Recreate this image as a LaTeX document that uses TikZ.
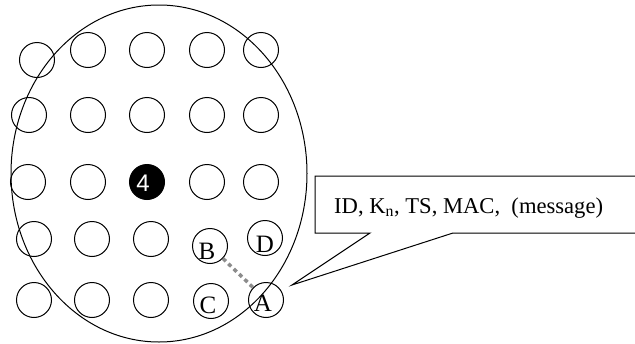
\documentclass[tikz,border=0pt]{standalone}
\usepackage{fontspec}
\setmainfont{Liberation Serif}
\newfontfamily\numfont{Liberation Sans}
\usetikzlibrary{shapes.geometric}
\begin{document}
\begin{tikzpicture}[x=1pt,y=-1pt,
  sensor/.style={circle,draw=black,line width=1pt,minimum size=35pt,inner sep=0pt},
  headnode/.style={sensor,fill=black},
  lbl/.style={inner sep=0pt,font=\fontsize{22.6}{27}\selectfont},
  letter/.style={inner sep=0pt,font=\fontsize{25}{30}\selectfont},
  region/.style={ellipse,draw=black,line width=1pt,minimum width=296pt,minimum height=337pt,inner sep=0pt},
  hop/.style={draw=black!45,line width=3.5pt,dash pattern=on 4pt off 3.5pt},
  callout/.style={draw=black,line width=1pt,fill=white}]
\useasboundingbox (0,0) rectangle (635,343);
% cluster region
\node[region] (area) at (159,173.5) {};
% row 1
\node[sensor] (n11) at (37,60) {};
\node[sensor] (n12) at (88,50) {};
\node[sensor] (n13) at (147,50) {};
\node[sensor] (n14) at (207,50) {};
\node[sensor] (n15) at (261,50) {};
% row 2
\node[sensor] (n21) at (29,115) {};
\node[sensor] (n22) at (88,115) {};
\node[sensor] (n23) at (147,115) {};
\node[sensor] (n24) at (207,115) {};
\node[sensor] (n25) at (261,115) {};
% row 3
\node[sensor] (n31) at (28,182) {};
\node[sensor] (n32) at (88,182) {};
\node[headnode] (head) at (147,182) {};
\node[inner sep=0pt,text=white,font=\numfont\fontsize{24}{28}\selectfont] (headlbl) at (143,183) {4};
\node[sensor] (n34) at (207,182) {};
\node[sensor] (n35) at (261,182) {};
% row 4
\node[sensor] (n41) at (34,239) {};
\node[sensor] (n42) at (92,239) {};
\node[sensor] (n43) at (151,239) {};
\node[sensor] (B) at (210,246) {};
\node[sensor] (D) at (265,238) {};
% row 5
\node[sensor] (n51) at (34,300) {};
\node[sensor] (n52) at (92,300) {};
\node[sensor] (n53) at (151,300) {};
\node[sensor] (C) at (211,301) {};
\node[sensor] (A) at (266,300) {};
% letters
\node[letter] (Blbl) at (207,251) {B};
\node[letter] (Dlbl) at (265,244) {D};
\node[letter] (Clbl) at (208,305) {C};
\node[letter] (Albl) at (263,303) {A};
% hop between B and A
\draw[hop] (B) -- (A);
% callout
\coordinate (tip) at (292,285);
\draw[callout] (640,176) -- (315,176) -- (315,233) -- (370,233) -- (tip) -- (453,233) -- (640,233);
\node[lbl,anchor=base west] (msg) at (334,213) {ID, K\textsubscript{n}, TS, MAC,\ \ (message)};
\end{tikzpicture}
\end{document}
